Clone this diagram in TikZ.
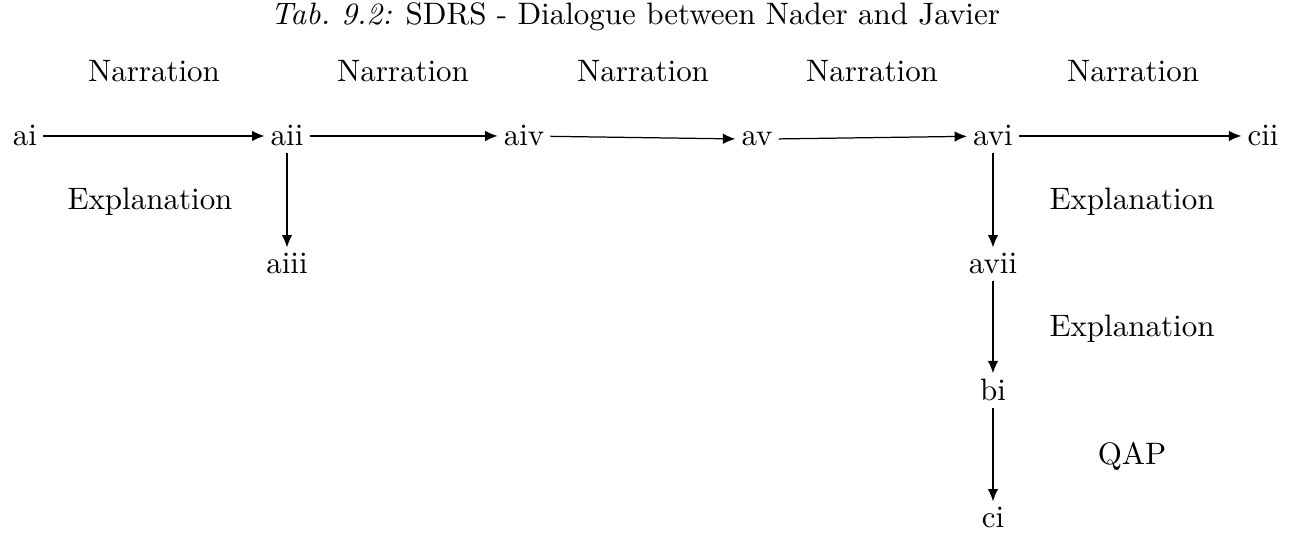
\documentclass[tikz,border=0pt]{standalone}
\usetikzlibrary{arrows.meta}
\begin{document}
\begin{tikzpicture}[x=0.3226pt,y=-0.3226pt,
  unit/.style={inner sep=1.8pt, anchor=base},
  lbl/.style={inner sep=0pt, anchor=base},
  rel/.style={-{Latex[length=4pt,width=3.4pt]}, line width=0.4pt}]
\useasboundingbox (0,0) rectangle (1295,533);

% caption
\node[lbl, anchor=base west] (title) at (270,25)
  {\textit{Tab.\ 9.2:} SDRS - Dialogue between Nader and Javier};

% discourse units
\node[unit] (ai)   at (25,146)  {ai};
\node[unit] (aii)  at (287,146) {aii};
\node[unit] (aiv)  at (524,146) {aiv};
\node[unit] (av)   at (757,146) {av};
\node[unit] (avi)  at (993,146) {avi};
\node[unit] (cii)  at (1263,146) {cii};
\node[unit] (aiii) at (287,274) {aiii};
\node[unit] (avii) at (993,274) {avii};
\node[unit] (bi)   at (993,401) {bi};
\node[unit] (ci)   at (993,528) {ci};

% relation names
\node[lbl] (n1) at (154,82)  {Narration};
\node[lbl] (n2) at (403,82)  {Narration};
\node[lbl] (n3) at (643,82)  {Narration};
\node[lbl] (n4) at (872,82)  {Narration};
\node[lbl] (n5) at (1133,82) {Narration};
\node[lbl] (e1) at (150,210)  {Explanation};
\node[lbl] (e2) at (1132,210) {Explanation};
\node[lbl] (e3) at (1132,337) {Explanation};
\node[lbl] (q1) at (1132,465) {QAP};

% rhetorical links
\draw[rel] (ai) -- (aii);
\draw[rel] (aii) -- (aiv);
\draw[rel] (aiv) -- (av);
\draw[rel] (av) -- (avi);
\draw[rel] (avi) -- (cii);
\draw[rel] (aii) -- (aiii);
\draw[rel] (avi) -- (avii);
\draw[rel] (avii) -- (bi);
\draw[rel] (bi) -- (ci);
\end{tikzpicture}
\end{document}
